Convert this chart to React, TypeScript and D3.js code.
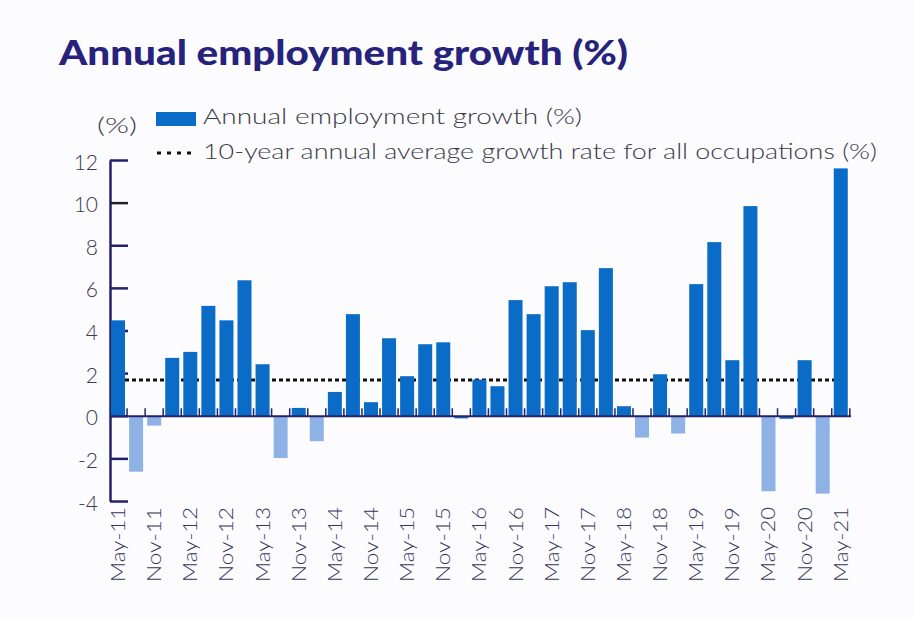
import React from "react";
import * as d3 from "d3";

const quarters: string[] = [
  "May-11","Aug-11","Nov-11","Feb-12","May-12","Aug-12","Nov-12","Feb-13","May-13","Aug-13",
  "Nov-13","Feb-14","May-14","Aug-14","Nov-14","Feb-15","May-15","Aug-15","Nov-15","Feb-16",
  "May-16","Aug-16","Nov-16","Feb-17","May-17","Aug-17","Nov-17","Feb-18","May-18","Aug-18",
  "Nov-18","Feb-19","May-19","Aug-19","Nov-19","Feb-20","May-20","Aug-20","Nov-20","Feb-21","May-21",
];

const growth: number[] = [
  4.5, -2.6, -0.44, 2.74, 3.02, 5.18, 4.5, 6.38, 2.44, -1.96,
  0.39, -1.17, 1.14, 4.79, 0.66, 3.66, 1.88, 3.38, 3.47, -0.1,
  1.72, 1.41, 5.45, 4.79, 6.1, 6.29, 4.04, 6.95, 0.47, -1.0,
  1.97, -0.81, 6.2, 8.17, 2.63, 9.86, -3.52, -0.12, 2.63, -3.63, 11.63,
];

const tenYearAverage = 1.7;

const yTicks: number[] = [-4, -2, 0, 2, 4, 6, 8, 10, 12];

const xLabels: string[] = quarters.filter((_, i) => i % 2 === 0);

const title = "Annual employment growth (%)";
const legendBar = "Annual employment growth (%)";
const legendLine = "10-year annual average growth rate for all occupations (%)";

const W = 914;
const H = 618;
const NAVY = "#25226b";
const DARK = "#0a6cc6";
const LIGHT = "#8fb2e6";
const FONT = "Lato, 'Open Sans', sans-serif";
const BG = "#fcfcfe";

export default function App() {
  const x = d3
    .scaleBand<string>()
    .domain(quarters)
    .range([109, 849.8])
    .paddingInner(0.225)
    .paddingOuter(0.1125);
  const y = d3.scaleLinear().domain([-4, 12]).range([501.5, 160.5]);
  const step = x.step();
  const x0 = 109;
  const y0 = y(0);

  return (
    <div style={{ position: "absolute", left: 0, top: 0, width: W, height: H, background: BG, overflow: "hidden" }}>
      <svg width={W} height={H} style={{ display: "block" }} fontFamily={FONT}>
        <rect x={0} y={0} width={W} height={H} fill={BG} />
        <text x={59} y={65} fontSize={34} fontWeight={900} fill="#27237c" textLength={569} lengthAdjust="spacingAndGlyphs">
          {title}
        </text>

        {/* legend */}
        <rect x={156} y={112} width={40} height={14} fill={DARK} />
        <text x={203} y={124} fontSize={21} fontWeight={300} fill="#3a3a46" textLength={379} lengthAdjust="spacingAndGlyphs">
          {legendBar}
        </text>
        <line x1={157} x2={193} y1={153} y2={153} stroke="#111" strokeWidth={3} strokeDasharray="4,6" />
        <text x={203} y={159} fontSize={21} fontWeight={300} fill="#3a3a46" textLength={674} lengthAdjust="spacingAndGlyphs">
          {legendLine}
        </text>

        {/* unit */}
        <text x={97} y={133} fontSize={21} fontWeight={300} fill="#3a3a46" textLength={40} lengthAdjust="spacingAndGlyphs">(%)</text>

        {/* y axis */}
        <line x1={110.5} x2={110.5} y1={y(12)} y2={y(-4)} stroke={NAVY} strokeWidth={2.5} />
        {yTicks.map((t) => (
          <g key={t}>
            <line x1={110} x2={128} y1={y(t)} y2={y(t)} stroke={t === 10 ? "#222" : NAVY} strokeWidth={2.5} />
            <text x={98} y={y(t) + 9} fontSize={21} fontWeight={300} fill="#3a3a52" textAnchor="end">
              {t}
            </text>
          </g>
        ))}

        {/* average line */}
        <line
          x1={111}
          x2={834}
          y1={y(tenYearAverage)}
          y2={y(tenYearAverage)}
          stroke="#111"
          strokeWidth={3}
          strokeDasharray="4,3"
        />

        {/* bars */}
        {growth.map((v, i) => {
          const q = quarters[i];
          const top = v >= 0 ? y(v) : y0;
          const h = Math.abs(y(v) - y0);
          return (
            <rect
              key={q}
              x={x(q)}
              y={top}
              width={x.bandwidth()}
              height={h}
              fill={v < -0.3 ? LIGHT : DARK}
            />
          );
        })}

        {/* zero axis */}
        <line x1={110} x2={851} y1={y0} y2={y0} stroke={NAVY} strokeWidth={2} />
        {quarters.map((q, i) => (
          <line
            key={"t" + q}
            x1={x0 + step * (i + 1)}
            x2={x0 + step * (i + 1)}
            y1={y0}
            y2={y0 - 8}
            stroke={NAVY}
            strokeWidth={1.5}
          />
        ))}

        {/* x labels */}
        {xLabels.map((l) => {
          const cx = (x(l) as number) + x.bandwidth() / 2;
          return (
            <text
              key={l}
              transform={`translate(${cx + 7},507) rotate(-90)`}
              fontSize={20}
              fontWeight={300}
              fill="#34345a"
              textAnchor="end"
              textLength={75}
              lengthAdjust="spacingAndGlyphs"
            >
              {l}
            </text>
          );
        })}
      </svg>
    </div>
  );
}
